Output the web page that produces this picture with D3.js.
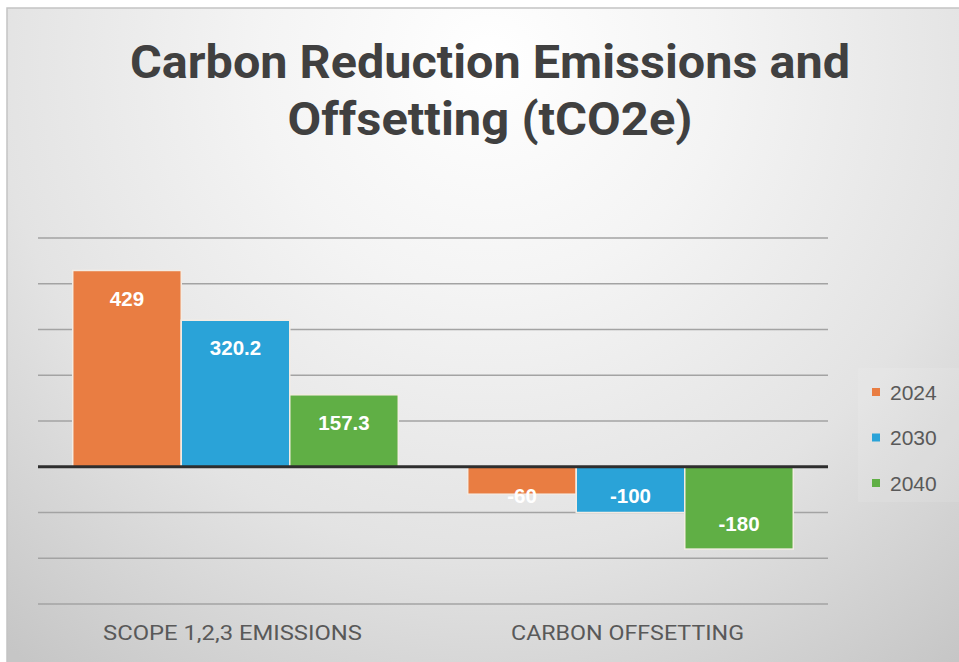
<!DOCTYPE html>
<html>
<head>
<meta charset="utf-8">
<script src="https://cdn.jsdelivr.net/npm/d3@7"></script>
<style>
  html,body{margin:0;padding:0;background:#fff;}
  svg{display:block;}
</style>
</head>
<body>
<div class="visHolder"></div>
<script>
const categories=["SCOPE 1,2,3 EMISSIONS","CARBON OFFSETTING"];
const seriesNames=["2024","2030","2040"];
const values2024=[429,-60];
const values2030=[320.2,-100];
const values2040=[157.3,-180];
const yTicks=[-300,-200,-100,0,100,200,300,400,500];
const titleLines=["Carbon Reduction Emissions and","Offsetting (tCO2e)"];
const colors=["#e97d42","#2aa3d8","#60af45"];

const w=959,h=662;
const series=[values2024,values2030,values2040];

const svg=d3.select(".visHolder")
.append("svg")
.attr("width",w)
.attr("height",h);

// background gradient
const defs=svg.append("defs");
const grad=defs.append("radialGradient")
.attr("id","bg")
.attr("gradientUnits","userSpaceOnUse")
.attr("cx",490).attr("cy",60).attr("r",760);
[[0,"#ffffff"],[0.3,"#f4f4f4"],[0.65,"#e3e3e3"],[1,"#c6c6c6"]].forEach(s=>{
  grad.append("stop").attr("offset",s[0]).attr("stop-color",s[1]);
});

svg.append("rect")
.attr("x",7).attr("y",8)
.attr("width",w).attr("height",h)
.attr("fill","url(#bg)")
.attr("stroke","#c4c4c4")
.attr("stroke-width",1.5);

// title
svg.selectAll(".title")
.data(titleLines)
.enter()
.append("text")
.attr("class","title")
.attr("x",490)
.attr("y",(d,i)=>78+i*57)
.attr("text-anchor","middle")
.attr("textLength",(d,i)=>i==0?720:405)
.attr("lengthAdjust","spacingAndGlyphs")
.style("font-family","Roboto, sans-serif")
.style("font-weight","700")
.style("font-size","46px")
.attr("fill","#404040")
.text(d=>d);

// scales
const y=d3.scaleLinear().domain([-300,500]).range([604,238]);
const x0=d3.scaleBand().domain(categories).range([38,828]);
const x1=d3.scaleBand().domain(seriesNames).range([0,x0.bandwidth()]).paddingInner(0).paddingOuter(0.32);

// gridlines
svg.append("g")
.selectAll("line")
.data(yTicks.filter(t=>t!==0))
.enter()
.append("line")
.attr("x1",38).attr("x2",828)
.attr("y1",d=>y(d)).attr("y2",d=>y(d))
.attr("stroke","#a3a3a3")
.attr("stroke-width",1.5);

// bars
const rows=[];
series.forEach((vals,si)=>{
  vals.forEach((v,ci)=>rows.push({s:seriesNames[si],si:si,c:categories[ci],v:v}));
});

svg.append("g")
.selectAll("rect")
.data(rows)
.enter()
.append("rect")
.attr("x",d=>x0(d.c)+x1(d.s))
.attr("width",x1.bandwidth())
.attr("y",d=>y(Math.max(0,d.v)))
.attr("height",d=>Math.abs(y(d.v)-y(0)))
.attr("fill",d=>colors[d.si])
.attr("stroke","#f3ece4")
.attr("stroke-width",1.5);

// zero line
svg.append("line")
.attr("x1",38).attr("x2",828)
.attr("y1",y(0)).attr("y2",y(0))
.attr("stroke","#2e2e2e")
.attr("stroke-width",3);

// value labels
svg.append("g")
.selectAll("text")
.data(rows)
.enter()
.append("text")
.attr("x",d=>x0(d.c)+x1(d.s)+x1.bandwidth()/2)
.attr("y",d=>{
  if(d.v>=0) return y(d.v)+28;
  return Math.max(y(d.v)-25,y(0)+29);
})
.attr("dy","0.35em")
.attr("text-anchor","middle")
.style("font-family","'Liberation Sans', Arial, sans-serif")
.style("font-weight","700")
.style("font-size","20.5px")
.attr("fill","#ffffff")
.text(d=>d.v);

// category labels
svg.append("g")
.selectAll("text")
.data(categories)
.enter()
.append("text")
.attr("x",d=>x0(d)+x0.bandwidth()/2-3)
.attr("y",640)
.attr("text-anchor","middle")
.attr("textLength",(d,i)=>i==0?259:233)
.attr("lengthAdjust","spacingAndGlyphs")
.style("font-family","Roboto, sans-serif")
.style("font-size","20px")
.attr("fill","#595959")
.text(d=>d);

// legend
svg.append("rect")
.attr("x",858).attr("y",368)
.attr("width",110).attr("height",134)
.attr("fill","#ffffff")
.attr("opacity",0.1);

const legend=svg.append("g")
.selectAll("g")
.data(seriesNames)
.enter()
.append("g")
.attr("transform",(d,i)=>"translate(872,"+(392+i*45.5)+")");

legend.append("rect")
.attr("x",0).attr("y",-4)
.attr("width",8).attr("height",8)
.attr("fill",(d,i)=>colors[i]);

legend.append("text")
.attr("x",18)
.attr("dy","0.36em")
.style("font-family","'Liberation Sans', Arial, sans-serif")
.style("font-size","21px")
.attr("fill","#595959")
.text(d=>d);
</script>
</body>
</html>
